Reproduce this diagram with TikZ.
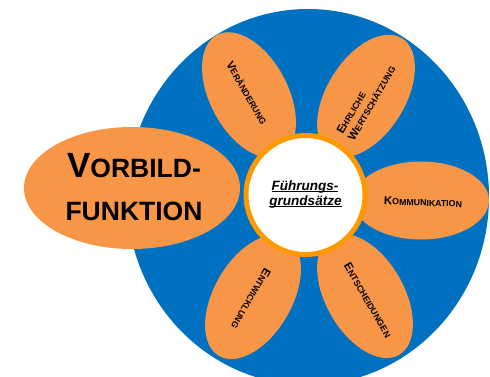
\documentclass[tikz,border=0pt]{standalone}
\usepackage{fontspec}
\setmainfont{Liberation Sans}
\usetikzlibrary{shapes.geometric}
\definecolor{flowerblue}{HTML}{0070C0}
\definecolor{petalorange}{HTML}{F79646}
\definecolor{ringorange}{HTML}{FF9900}
\newcommand\bigsmall[2]{{\fontsize{11.5}{13}\selectfont #1}{\fontsize{8.8}{13}\selectfont #2}}
\newcommand\myul[1]{\setbox0\hbox{#1}\rlap{\copy0}\rule[-2.2pt]{\wd0}{0.9pt}}
\begin{document}
\begin{tikzpicture}[x=1pt,y=-1pt,
  petalshape/.style={ellipse, fill=petalorange, draw=none, inner sep=0pt, minimum width=136pt, minimum height=78pt},
  petaltext/.style={font=\bfseries\fontsize{8.8}{13}\selectfont, text=black, inner sep=0pt, align=center}]
\useasboundingbox (0,0) rectangle (490,377);
\clip (0,0) rectangle (490,377);
\node[ellipse, fill=flowerblue, inner sep=0pt, minimum width=362pt, minimum height=376pt] (disc) at (308,197) {};
\node[petalshape, rotate=118] (p1) at (249,95) {};
\node[petalshape, rotate=58] (p2) at (366,96) {};
\node[petalshape, rotate=0] (p3) at (421,200.5) {};
\node[petalshape, rotate=-60] (p4) at (365,296) {};
\node[petalshape, rotate=60] (p5) at (253,297) {};
\node[ellipse, fill=petalorange, inner sep=0pt, minimum width=216pt, minimum height=122pt] (vorbild) at (132,188) {};
\node[circle, fill=white, draw=ringorange, line width=5pt, inner sep=0pt, minimum size=119pt] (core) at (305.5,195) {};
\node[petaltext, rotate=-60] (t1) at (247,93) {\bigsmall{V}{ERÄNDERUNG}};
\node[petaltext, rotate=60, align=left] (t2) at (366,100) {\bigsmall{E}{HRLICHE}\\\bigsmall{W}{ERTSCHÄTZUNG}};
\node[petaltext, rotate=-2] (t3) at (423,202) {\bigsmall{K}{OMMUNIKATION}};
\node[petaltext, rotate=-60] (t4) at (368,300) {\bigsmall{E}{NTSCHEIDUNGEN}};
\node[petaltext, rotate=-120] (t5) at (251,299) {\bigsmall{E}{NTWICKLUNG}};
\node[anchor=base, font=\bfseries, inner sep=0pt] (v1) at (134,178) {{\fontsize{35}{35}\selectfont V}{\fontsize{26.5}{30}\selectfont ORBILD-}};
\node[anchor=base, font=\bfseries\fontsize{26.5}{30}\selectfont, inner sep=0pt] (v2) at (134,220) {FUNKTION};
\node[anchor=base, font=\bfseries\itshape\fontsize{13.5}{15}\selectfont, inner sep=0pt] (f1) at (305,190) {\myul{Führungs-}};
\node[anchor=base, font=\bfseries\itshape\fontsize{13.5}{15}\selectfont, inner sep=0pt] (f2) at (305.5,205) {\myul{grundsätze}};
\end{tikzpicture}
\end{document}
